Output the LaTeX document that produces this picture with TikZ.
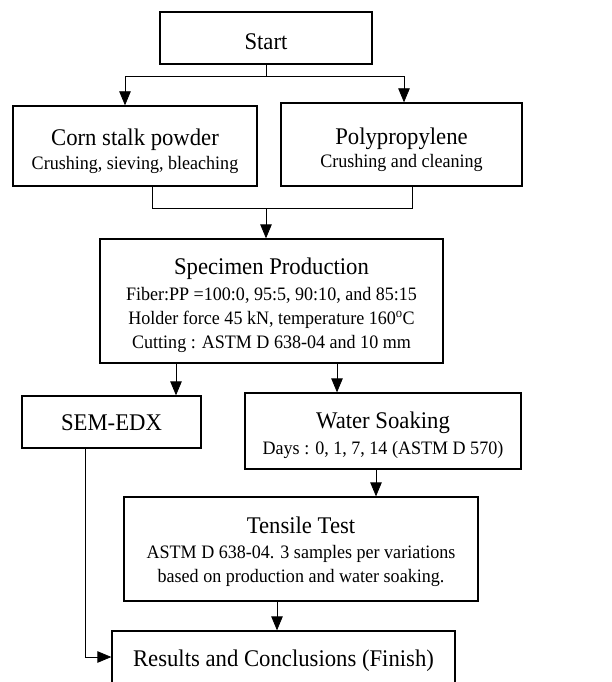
\documentclass[tikz,border=0pt]{standalone}
\usepackage{fontspec}
\setmainfont[FakeStretch=0.95]{Liberation Serif}
\usetikzlibrary{arrows.meta}
\tikzset{
  x=1pt, y=-1pt,
  box/.style={draw, line width=1.3pt, rectangle, inner sep=0pt},
  ttl/.style={anchor=base, inner sep=0pt, font=\fontsize{23.9}{26}\selectfont},
  sub/.style={anchor=base, inner sep=0pt, font=\fontsize{19}{22}\selectfont},
  link/.style={line width=0.8pt},
  arr/.style={link, -{Triangle[length=14pt,width=11.5pt]}}
}
\begin{document}
\begin{tikzpicture}
\useasboundingbox (0,0) rectangle (612,682);

% process boxes
\node[box, minimum width=212pt, minimum height=52pt] (start) at (266,38) {};
\node[box, minimum width=244pt, minimum height=80pt] (corn) at (135,146) {};
\node[box, minimum width=241pt, minimum height=83pt] (poly) at (401.5,144.5) {};
\node[box, minimum width=343pt, minimum height=124pt] (spec) at (271.5,301) {};
\node[box, minimum width=179pt, minimum height=52pt] (sem) at (111.5,422) {};
\node[box, minimum width=276pt, minimum height=76pt] (water) at (383,431) {};
\node[box, minimum width=354pt, minimum height=104pt] (tensile) at (301,549) {};
\node[box, minimum width=343pt, minimum height=54pt] (results) at (283.5,658) {};

% box texts
\node[ttl] (startT) at (266,50) {Start};
\node[ttl] (cornT) at (135,145) {Corn stalk powder};
\node[sub] (cornS) at (135,169) {Crushing, sieving, bleaching};
\node[ttl] (polyT) at (401.5,144) {Polypropylene};
\node[sub] (polyS) at (401.5,167) {Crushing and cleaning};
\node[ttl] (specT) at (271.5,274) {Specimen Production};
\node[sub] (specA) at (271.5,300) {Fiber:PP =100:0, 95:5, 90:10, and 85:15};
\node[sub] (specB) at (271.5,324) {Holder force 45 kN, temperature 160\textsuperscript{o}C};
\node[sub] (specC) at (271.5,348) {Cutting : ASTM D 638-04 and 10 mm};
\node[ttl] (semT) at (111.5,430) {SEM-EDX};
\node[ttl] (waterT) at (383,428) {Water Soaking};
\node[sub] (waterS) at (383,454) {Days : 0, 1, 7, 14 (ASTM D 570)};
\node[ttl] (tensT) at (301,533) {Tensile Test};
\node[sub] (tensA) at (301,558) {ASTM D 638-04. 3 samples per variations};
\node[sub] (tensB) at (301,582) {based on production and water soaking.};
\node[ttl] (resT) at (283.5,666) {Results and Conclusions (Finish)};

% split from Start to the two raw materials
\coordinate (split) at (266,76);
\draw[link] (start.south) -- (split);
\draw[arr] (split) -| ([xshift=-10pt]corn.north);
\draw[arr] (split) -| ([xshift=2.5pt]poly.north);

% merge of the raw materials into specimen production
\coordinate (mergeL) at (152,208);
\coordinate (mergeR) at (412,208);
\draw[link] (corn.south -| mergeL) -- (mergeL) -- (mergeR) -- (poly.south -| mergeR);
\draw[arr] ([xshift=-5.5pt]spec.north |- mergeL) -- ([xshift=-5.5pt]spec.north);

% specimen production to the two analyses
\draw[arr] ([xshift=-95.5pt]spec.south) -- ([xshift=-95.5pt]spec.south |- sem.north);
\draw[arr] ([xshift=65.5pt]spec.south) -- ([xshift=65.5pt]spec.south |- water.north);

% water soaking to tensile test to results
\draw[arr] ([xshift=-7pt]water.south) -- ([xshift=-7pt]water.south |- tensile.north);
\draw[arr] ([xshift=-24pt]tensile.south) -- ([xshift=-24pt]tensile.south |- results.north);

% SEM-EDX straight to results
\coordinate (semdown) at (85,657);
\draw[arr] ([xshift=-26.5pt]sem.south) -- (semdown) -- (semdown -| results.west);
\end{tikzpicture}
\end{document}
